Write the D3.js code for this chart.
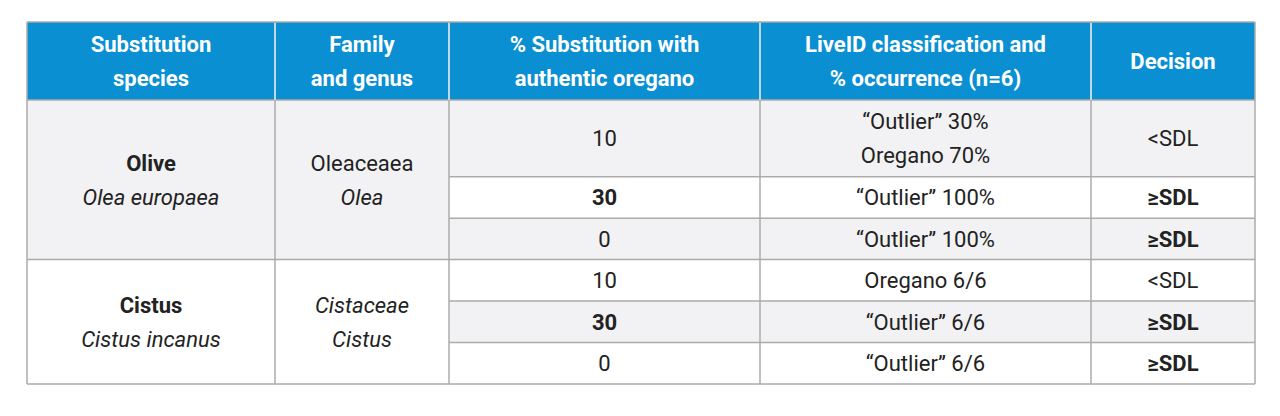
<!DOCTYPE html>
<html><head><meta charset="utf-8">
<script src="https://cdn.jsdelivr.net/npm/d3@7"></script>
<style>body{margin:0;background:#fff}</style>
</head><body>
<svg id="c" width="1280" height="416"></svg>
<script>
var headers = [["Substitution", "species"], ["Family", "and genus"], ["% Substitution with", "authentic oregano"], ["LiveID classification and", "% occurrence (n=6)"], ["Decision"]];
var species = [["Olive", "Olea europaea"], ["Cistus", "Cistus incanus"]];
var families = [["Oleaceaea", "Olea"], ["Cistaceae", "Cistus"]];
var familyItalic = [[false, true], [true, true]];
var substitution = ["10", "30", "0", "10", "30", "0"];
var classification = [["\u201cOutlier\u201d 30%", "Oregano 70%"], ["\u201cOutlier\u201d 100%"], ["\u201cOutlier\u201d 100%"], ["Oregano 6/6"], ["\u201cOutlier\u201d 6/6"], ["\u201cOutlier\u201d 6/6"]];
var decision = ["<SDL", "\u2265SDL", "\u2265SDL", "<SDL", "\u2265SDL", "\u2265SDL"];
var rowWeights = [1.85, 1, 1, 1, 1, 1];

var svg = d3.select("#c"),
    colEdges = [27, 275, 449, 760, 1091, 1255],
    tableTop = 22, headBottom = 100, bottom = 384,
    grey = "#f2f2f4", border = "#ababab", blue = "#0a8fd3", ink = "#222";

var cum = [0];
rowWeights.forEach(function(w) { cum.push(cum[cum.length - 1] + w); });
var y = d3.scaleLinear().domain([0, cum[cum.length - 1]]).range([headBottom, bottom]);

function cellText(cx, cy, lines, opts) {
  var lh = opts.lh || 34;
  lines.forEach(function(t, i) {
    svg.append("text")
        .attr("x", cx)
        .attr("y", cy + (i - (lines.length - 1) / 2) * lh)
        .attr("dy", "0.36em")
        .attr("text-anchor", "middle")
        .attr("font-family", "Roboto, sans-serif")
        .attr("font-size", opts.size || 21)
        .attr("font-weight", opts.bold && opts.bold[i] ? 700 : 400)
        .attr("font-style", opts.italic && opts.italic[i] ? "italic" : "normal")
        .attr("fill", opts.fill || ink)
        .text(t);
  });
}

// header
svg.append("rect").attr("x", colEdges[0]).attr("y", tableTop).attr("width", colEdges[5] - colEdges[0]).attr("height", headBottom - tableTop).attr("fill", blue);
headers.forEach(function(h, i) {
  cellText((colEdges[i] + colEdges[i + 1]) / 2, (tableTop + headBottom) / 2, h, {size: 22, bold: [1, 1], fill: "#fff"});
});

// group cells (first two columns)
[[0, 3], [3, 6]].forEach(function(g, gi) {
  var y0 = y(cum[g[0]]), y1 = y(cum[g[1]]);
  svg.append("rect").attr("x", colEdges[0]).attr("y", y0).attr("width", colEdges[2] - colEdges[0]).attr("height", y1 - y0).attr("fill", gi === 0 ? grey : "#fff");
  cellText((colEdges[0] + colEdges[1]) / 2, (y0 + y1) / 2, species[gi], {bold: [1, 0], italic: [0, 1], size: 22});
  cellText((colEdges[1] + colEdges[2]) / 2, (y0 + y1) / 2, families[gi], {italic: familyItalic[gi], size: 22});
});

// detail rows
substitution.forEach(function(s, r) {
  var y0 = y(cum[r]), y1 = y(cum[r + 1]), cy = (y0 + y1) / 2;
  svg.append("rect").attr("x", colEdges[2]).attr("y", y0).attr("width", colEdges[5] - colEdges[2]).attr("height", y1 - y0).attr("fill", r % 2 === 0 ? grey : "#fff");
  cellText((colEdges[2] + colEdges[3]) / 2, cy, [s], {bold: [s === "30"], size: 22});
  cellText((colEdges[3] + colEdges[4]) / 2, cy, classification[r], {size: 22});
  cellText((colEdges[4] + colEdges[5]) / 2, cy, [decision[r]], {bold: [decision[r] !== "<SDL"], size: 22});
});

// grid lines
var lines = svg.append("g").attr("stroke", border).attr("stroke-width", 1.5);
colEdges.forEach(function(x) {
  lines.append("line").attr("x1", x).attr("x2", x).attr("y1", tableTop).attr("y2", bottom);
});
lines.append("line").attr("x1", colEdges[0]).attr("x2", colEdges[5]).attr("y1", tableTop).attr("y2", tableTop);
cum.forEach(function(c, i) {
  var x0 = (i === 0 || i === 3 || i === 6) ? colEdges[0] : colEdges[2];
  lines.append("line").attr("x1", x0).attr("x2", colEdges[5]).attr("y1", y(c)).attr("y2", y(c));
});
// light dividers in header
svg.selectAll(".hd").data(colEdges.slice(1, 5)).enter().append("line")
    .attr("x1", function(d) { return d; }).attr("x2", function(d) { return d; })
    .attr("y1", tableTop + 1).attr("y2", headBottom).attr("stroke", "#d6e8f5").attr("stroke-width", 1.5);
</script>
</body></html>
